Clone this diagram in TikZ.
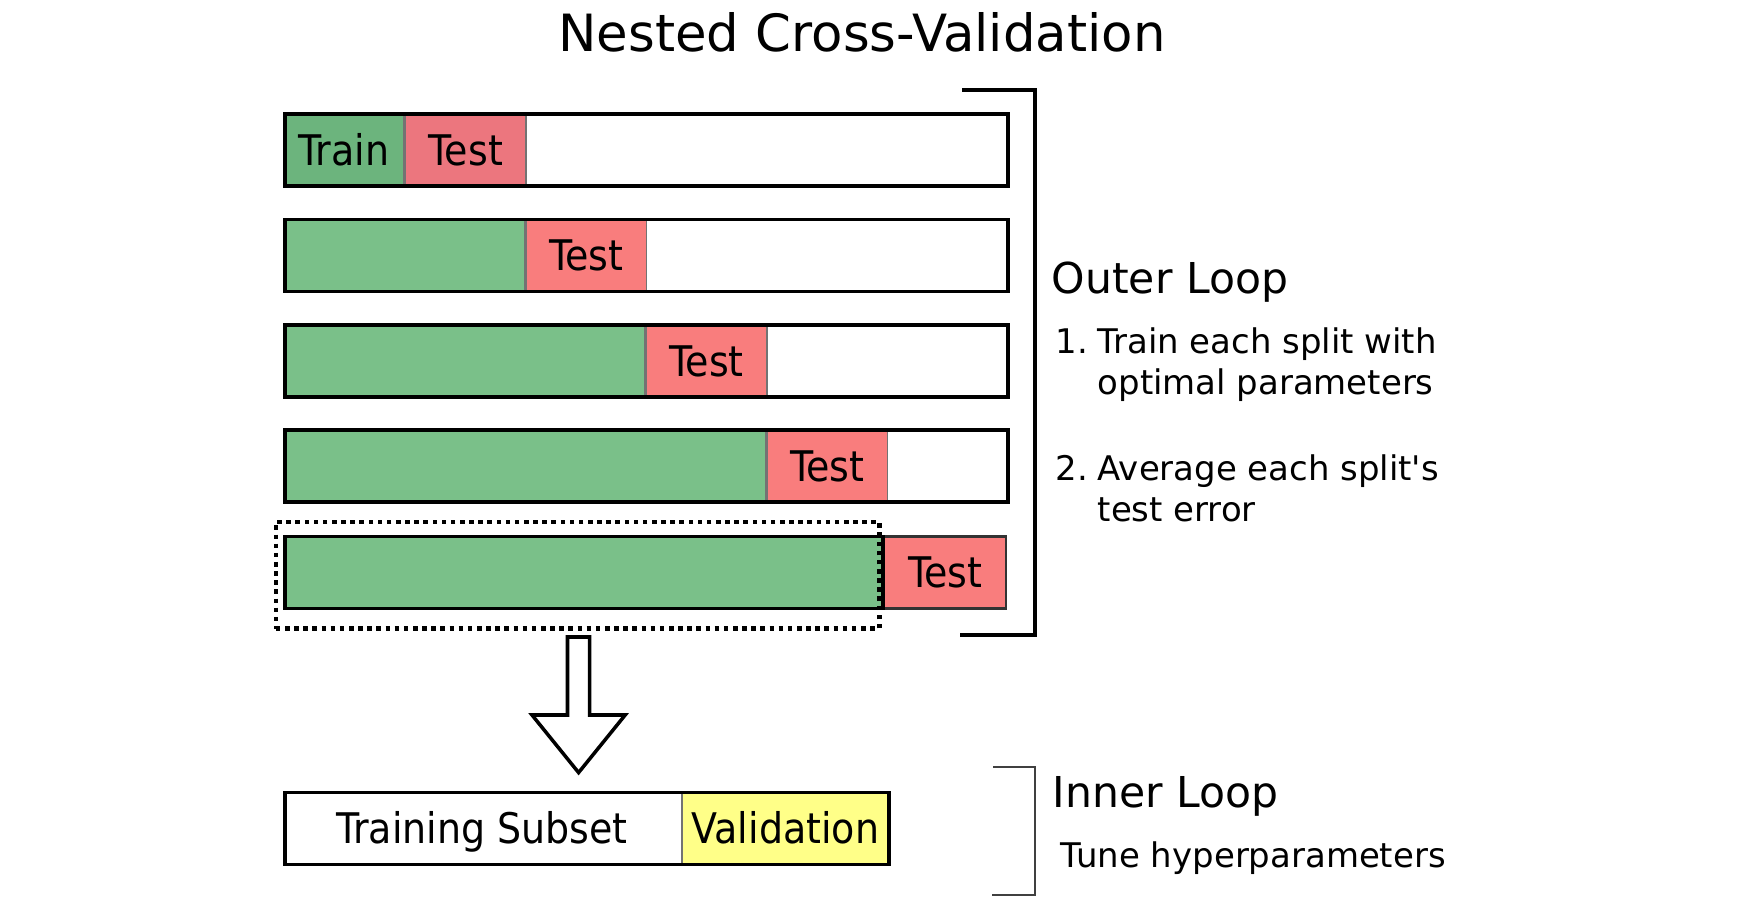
\documentclass[tikz,border=0pt]{standalone}
\usepackage{fontspec}
\setmainfont{DejaVu Sans}
\newfontfamily\condfont{DejaVu Sans Condensed}
\usetikzlibrary{positioning}

\definecolor{trgreen}{RGB}{122,192,137}
\definecolor{trgreenA}{RGB}{108,180,125}
\definecolor{tsred}{RGB}{249,125,125}
\definecolor{tsredA}{RGB}{236,118,126}
\definecolor{valyellow}{RGB}{255,255,136}

\tikzset{
    seg/.style={rectangle, inner sep=0pt, minimum height=0.72cm, text height=8.7pt, text depth=0pt,
        draw=black!55, line width=0.4pt, font=\condfont\fontsize{12}{14}\selectfont},
    trainseg/.style={seg, fill=trgreen},
    testseg/.style={seg, fill=tsred, minimum width=1.204cm},
    barbox/.style={rectangle, draw, line width=1.1pt, inner sep=0pt, minimum height=0.72cm, minimum width=7.226cm},
    selbox/.style={rectangle, draw, line width=1.3pt, dash pattern=on 1.3pt off 1.3pt, inner sep=0pt,
        minimum width=6.03cm, minimum height=1.065cm},
    sidetext/.style={anchor=base west, inner sep=0pt, font=\fontsize{9.65}{11.7}\selectfont}
}

\begin{document}
\begin{tikzpicture}[x=0.01cm, y=-0.01cm]
    \useasboundingbox (0,0) rectangle (1738,916);
    \node[anchor=base, inner sep=0pt, font=\fontsize{14.6}{17}\selectfont] (title) at (862,51.7) {Nested Cross-Validation};

    % outer splits
    \coordinate (s1) at (283,150.2);
    \coordinate (s2) at (283,255.5);
    \coordinate (s3) at (283,360.8);
    \coordinate (s4) at (283,466.1);
    \coordinate (s5) at (283,572.5);

    \node[trainseg, fill=trgreenA, minimum width=1.204cm, anchor=west] (g1) at (s1) {Train};
    \node[testseg, fill=tsredA, anchor=west] (t1) at (g1.east) {Test};
    \node[barbox, anchor=west] (b1) at (s1) {};

    \node[trainseg, minimum width=2.408cm, anchor=west] (g2) at (s2) {};
    \node[testseg, anchor=west] (t2) at (g2.east) {Test};
    \node[barbox, anchor=west] (b2) at (s2) {};

    \node[trainseg, minimum width=3.612cm, anchor=west] (g3) at (s3) {};
    \node[testseg, anchor=west] (t3) at (g3.east) {Test};
    \node[barbox, anchor=west] (b3) at (s3) {};

    \node[trainseg, minimum width=4.816cm, anchor=west] (g4) at (s4) {};
    \node[testseg, anchor=west] (t4) at (g4.east) {Test};
    \node[barbox, anchor=west] (b4) at (s4) {};

    \node[trainseg, minimum width=5.98cm, anchor=west] (g5) at (s5) {};
    \node[testseg, draw=black!80, line width=0.7pt, minimum width=1.22cm, anchor=west] (t5) at (g5.east) {Test};
    \node[barbox, minimum width=5.98cm, anchor=west] (b5) at (s5) {};
    \node[selbox, anchor=east] (sel) at (881.5,575.3) {};

    % outer bracket
    \draw [line width=1pt] (962,90) -- (1035,90) -- (1035,635) -- (960,635);

    % block arrow down
    \draw [line width=1pt, fill=white] (567.5,637) -- (567.5,715) -- (532,715) -- (578.6,772.6)
        -- (625.2,715) -- (589.7,715) -- (589.7,637) -- cycle;

    % inner split
    \coordinate (s6) at (283,828.5);
    \node[seg, draw=none, minimum width=3.965cm, anchor=west] (sub) at (s6) {Training Subset};
    \node[seg, fill=valyellow, minimum width=2.073cm, anchor=west] (val) at (sub.east) {Validation};
    \node[barbox, minimum width=6.038cm, anchor=west] (inner) at (s6) {};

    % inner bracket
    \draw [line width=0.7pt, color=black!75] (993,767) -- (1035,767) -- (1035,895) -- (992,895);

    \node[anchor=base west, inner sep=0pt, font=\fontsize{12.1}{14}\selectfont] (outer) at (1051,294) {Outer Loop};
    \node[sidetext] (n1) at (1055,354) {1.};
    \node[sidetext] (i1a) at (1097,354) {Train each split with};
    \node[sidetext] (i1b) at (1097,394.5) {optimal parameters};
    \node[sidetext] (n2) at (1055,481) {2.};
    \node[sidetext] (i2a) at (1097,481) {Average each split\textquotesingle s};
    \node[sidetext] (i2b) at (1097,522) {test error};

    \node[anchor=base west, inner sep=0pt, font=\fontsize{12.1}{14}\selectfont] (innerloop) at (1052,808) {Inner Loop};
    \node[sidetext] (tune) at (1060,867.7) {Tune hyperparameters};
\end{tikzpicture}
\end{document}
